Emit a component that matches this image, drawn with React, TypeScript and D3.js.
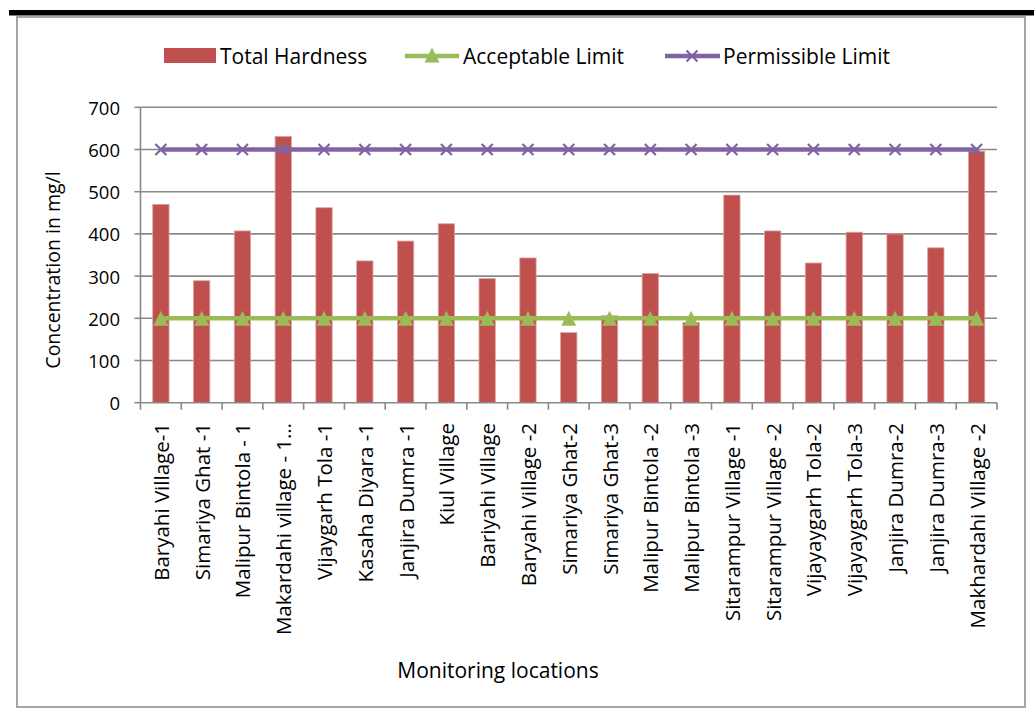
import React from 'react';
import * as d3 from 'd3';

const categories = [
  'Baryahi Village-1',
  'Simariya Ghat -1',
  'Malipur Bintola - 1',
  'Makardahi village - 1…',
  'Vijaygarh Tola -1',
  'Kasaha Diyara -1',
  'Janjira Dumra -1',
  'Kiul Village',
  'Bariyahi Village',
  'Baryahi Village -2',
  'Simariya Ghat-2',
  'Simariya Ghat-3',
  'Malipur Bintola -2',
  'Malipur Bintola -3',
  'Sitarampur Village -1',
  'Sitarampur Village -2',
  'Vijayaygarh Tola-2',
  'Vijayaygarh Tola-3',
  'Janjira Dumra-2',
  'Janjira Dumra-3',
  'Makhardahi Village -2',
];

const totalHardness = [470, 289, 407, 631, 462, 336, 383, 424, 294, 343, 166, 206, 306, 190, 492, 407, 331, 404, 400, 367, 596];
const acceptableLimit = [200, 200, 200, 200, 200, 200, 200, 200, 200, 200, 200, 200, 200, 200, 200, 200, 200, 200, 200, 200, 200];
const permissibleLimit = [600, 600, 600, 600, 600, 600, 600, 600, 600, 600, 600, 600, 600, 600, 600, 600, 600, 600, 600, 600, 600];
const yTicks = [0, 100, 200, 300, 400, 500, 600, 700];

const FONT = "'Open Sans', sans-serif";
const PLOT = { left: 140.5, right: 997, top: 107.3, bottom: 402.7 };
const RED = '#C0504D';
const GREEN = '#9BBB59';
const PURPLE = '#8064A2';
const GRID = '#898989';

function Triangle({ cx, cy }: { cx: number; cy: number }) {
  return <path d={`M${cx},${cy - 7.5} L${cx + 7.5},${cy + 7.5} L${cx - 7.5},${cy + 7.5} Z`} fill={GREEN} />;
}
function Cross({ cx, cy }: { cx: number; cy: number }) {
  const s = 5.5;
  return (
    <path d={`M${cx - s},${cy - s} L${cx + s},${cy + s} M${cx - s},${cy + s} L${cx + s},${cy - s}`} stroke={PURPLE} strokeWidth={2.2} fill="none" />
  );
}

export default function App() {
  const x = d3.scaleBand<string>().domain(categories).range([PLOT.left, PLOT.right]).padding(0);
  const y = d3.scaleLinear().domain([0, 700]).range([PLOT.bottom, PLOT.top]);
  const bw = x.bandwidth();
  const barW = bw * 0.4;
  const cx = (c: string) => (x(c) as number) + bw / 2;

  const line = d3
    .line<number>()
    .x((_, i) => cx(categories[i]))
    .y((d) => y(d));

  return (
    <svg width={1034} height={711} style={{ position: 'absolute', left: 0, top: 0 }} fontFamily={FONT}>
      <rect x={0} y={0} width={1034} height={711} fill="#fff" />
      <rect x={9} y={10} width={1025} height={5.5} fill="#000" />
      <rect x={17} y={17} width={1008} height={690} fill="#fff" stroke="#a6a6a6" strokeWidth={2} />

      {/* legend */}
      <g fontSize={21} fill="#000">
        <rect x={164} y={48} width={52} height={15} fill={RED} />
        <text x={220} y={56} dominantBaseline="central">Total Hardness</text>
        <line x1={405} x2={459} y1={56} y2={56} stroke={GREEN} strokeWidth={4.5} />
        <Triangle cx={432} cy={55} />
        <text x={463} y={56} dominantBaseline="central">Acceptable Limit</text>
        <line x1={665} x2={720} y1={56} y2={56} stroke={PURPLE} strokeWidth={4.5} />
        <Cross cx={692} cy={56} />
        <text x={723} y={56} dominantBaseline="central">Permissible Limit</text>
      </g>

      {/* gridlines */}
      {yTicks.filter((t) => t > 0).map((t) => (
        <line key={t} x1={PLOT.left} x2={PLOT.right} y1={y(t)} y2={y(t)} stroke={GRID} strokeWidth={1.6} />
      ))}

      {/* y axis */}
      <line x1={PLOT.left} x2={PLOT.left} y1={PLOT.top} y2={PLOT.bottom} stroke={GRID} strokeWidth={1.6} />
      {yTicks.map((t) => (
        <g key={t}>
          <line x1={PLOT.left - 6} x2={PLOT.left} y1={y(t)} y2={y(t)} stroke={GRID} strokeWidth={1.6} />
          <text x={120} y={y(t)} textAnchor="end" dominantBaseline="central" fontSize={18.5}>{t}</text>
        </g>
      ))}

      {/* bars */}
      {categories.map((c, i) => (
        <rect key={c} x={cx(c) - barW / 2} y={y(totalHardness[i])} width={barW} height={y(0) - y(totalHardness[i])} fill={RED} stroke="#dba3a2" strokeWidth={0.8} />
      ))}

      {/* x axis */}
      <line x1={PLOT.left} x2={PLOT.right} y1={PLOT.bottom} y2={PLOT.bottom} stroke={GRID} strokeWidth={1.6} />
      {categories.map((c) => (
        <line key={c} x1={x(c) as number} x2={x(c) as number} y1={PLOT.bottom} y2={PLOT.bottom + 7} stroke={GRID} strokeWidth={1.6} />
      ))}
      <line x1={PLOT.right} x2={PLOT.right} y1={PLOT.bottom} y2={PLOT.bottom + 7} stroke={GRID} strokeWidth={1.6} />

      {/* lines */}
      <path d={line(acceptableLimit) as string} fill="none" stroke={GREEN} strokeWidth={4.5} />
      {categories.map((c, i) => <Triangle key={c} cx={cx(c)} cy={y(acceptableLimit[i])} />)}
      <path d={line(permissibleLimit) as string} fill="none" stroke={PURPLE} strokeWidth={4.5} />
      {categories.map((c, i) => <Cross key={c} cx={cx(c)} cy={y(permissibleLimit[i])} />)}

      {/* x labels */}
      {categories.map((c) => (
        <text key={c} transform={`translate(${cx(c)},${423}) rotate(-90)`} textAnchor="end" dominantBaseline="central" fontSize={20.5}>{c}</text>
      ))}

      {/* axis titles */}
      <text transform="translate(52,270) rotate(-90)" textAnchor="middle" dominantBaseline="central" fontSize={19.5}>Concentration in mg/l</text>
      <text x={498} y={670} textAnchor="middle" dominantBaseline="central" fontSize={21}>Monitoring locations</text>
    </svg>
  );
}
